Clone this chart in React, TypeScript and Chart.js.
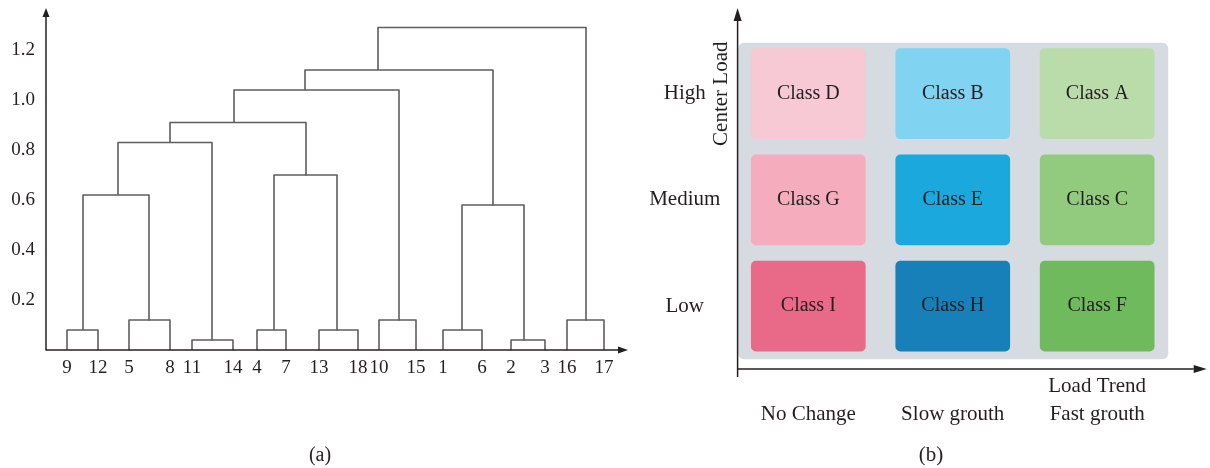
import React, { useEffect, useRef } from 'react';
import { Chart, registerables } from 'chart.js';

Chart.register(...registerables);

const SERIF = '"Liberation Serif", "Times New Roman", serif';
const INK = '#231f20';

// ---------- (a) dendrogram data ----------
const leafLabels = ['9', '12', '5', '8', '11', '14', '4', '7', '13', '18', '10', '15', '1', '6', '2', '3', '16', '17'];
const leafPos = [21, 52, 83, 124, 146, 187, 211, 240, 273, 312, 333, 370, 397, 436, 465, 499, 521, 558];
// node ids: leaves 0..17, merges 18..34 (in this order)
const mergeLeft = [0, 2, 18, 4, 20, 6, 8, 23, 22, 10, 26, 12, 14, 29, 28, 16, 32];
const mergeRight = [1, 3, 19, 5, 21, 7, 9, 24, 25, 11, 27, 13, 15, 30, 31, 17, 33];
const mergeHeight = [0.08, 0.12, 0.62, 0.04, 0.83, 0.08, 0.08, 0.70, 0.91, 0.12, 1.04, 0.08, 0.04, 0.58, 1.12, 0.12, 1.29];
const mergePos = [37, 103, 72, 166, 124, 228, 291, 260, 188, 353, 259, 416, 478, 447, 332, 540, 436];
const heightTicks = [0.2, 0.4, 0.6, 0.8, 1.0, 1.2];

// ---------- (b) class grid data ----------
const trendLabels = ['No Change', 'Slow grouth', 'Fast grouth'];
const loadLabels = ['Low', 'Medium', 'High'];
const classNames = [
  ['Class I', 'Class H', 'Class F'],
  ['Class G', 'Class E', 'Class C'],
  ['Class D', 'Class B', 'Class A'],
];
const classColors = [
  ['#e86a88', '#1780b8', '#6fba5c'],
  ['#f5adbd', '#1aa8dd', '#92cb7e'],
  ['#f7c9d4', '#80d3f1', '#b9dcaa'],
];
const yTitle = 'Center Load';
const xTitle = 'Load Trend';

function arrowLine(ctx: CanvasRenderingContext2D, x1: number, y1: number, x2: number, y2: number, len: number, half: number) {
  const ang = Math.atan2(y2 - y1, x2 - x1);
  const bx = x2 - Math.cos(ang) * len;
  const by = y2 - Math.sin(ang) * len;
  ctx.beginPath();
  ctx.moveTo(x1, y1);
  ctx.lineTo(bx, by);
  ctx.stroke();
  ctx.beginPath();
  ctx.moveTo(x2, y2);
  ctx.lineTo(bx - Math.sin(ang) * half, by + Math.cos(ang) * half);
  ctx.lineTo(bx + Math.sin(ang) * half, by - Math.cos(ang) * half);
  ctx.closePath();
  ctx.fill();
}

const noPad = (s: any) => {
  s.paddingTop = 0;
  s.paddingBottom = 0;
  s.paddingLeft = 0;
  s.paddingRight = 0;
};

export default function App() {
  const refA = useRef<HTMLCanvasElement>(null);
  const refB = useRef<HTMLCanvasElement>(null);

  useEffect(() => {
    const nodeX = leafPos.concat(mergePos);
    const nodeH = leafPos.map(() => 0).concat(mergeHeight);
    const dendroSets = mergeLeft.map((a, i) => {
      const b = mergeRight[i];
      const h = mergeHeight[i];
      return {
        data: [
          { x: nodeX[a], y: nodeH[a] },
          { x: nodeX[a], y: h },
          { x: nodeX[b], y: h },
          { x: nodeX[b], y: nodeH[b] },
        ],
        showLine: true,
        borderColor: '#5e5e5e',
        borderWidth: 1.6,
        pointRadius: 0,
        tension: 0,
        borderJoinStyle: 'round',
        fill: false,
      };
    });

    const axesA = {
      id: 'axesA',
      afterDraw(chart: any) {
        const { ctx, chartArea: ca } = chart;
        ctx.save();
        ctx.strokeStyle = INK;
        ctx.fillStyle = INK;
        ctx.lineWidth = 1.5;
        arrowLine(ctx, ca.left, ca.bottom + 0.5, ca.left, ca.top, 9, 3.5);
        arrowLine(ctx, ca.left, ca.bottom, ca.left + 582, ca.bottom, 10, 3.5);
        ctx.restore();
      },
    };

    const chartA = new Chart(refA.current as HTMLCanvasElement, {
      type: 'scatter',
      data: { datasets: dendroSets as any },
      options: {
        responsive: false,
        animation: false,
        devicePixelRatio: 1,
        layout: { padding: { left: 0, right: 0, top: 8, bottom: 0 } },
        plugins: {
          legend: { display: false },
          tooltip: { enabled: false },
          title: {
            display: true,
            text: '(a)',
            position: 'bottom',
            color: INK,
            padding: 0,
            font: { family: SERIF, size: 20, weight: 'normal' },
          },
        },
        scales: {
          x: {
            type: 'linear',
            min: 0,
            max: 594,
            grid: { display: false, drawTicks: false },
            border: { display: false },
            afterBuildTicks: (s: any) => {
              s.ticks = leafPos.map((v) => ({ value: v }));
            },
            afterFit: (s: any) => {
              s.height = 94;
              noPad(s);
            },
            ticks: {
              autoSkip: false,
              maxRotation: 0,
              minRotation: 0,
              padding: 7,
              color: INK,
              font: { family: SERIF, size: 19 },
              callback: (_v: any, i: number) => leafLabels[i],
            },
          },
          y: {
            type: 'linear',
            min: 0,
            max: 1.368,
            grid: { display: false, drawTicks: false },
            border: { display: false },
            afterBuildTicks: (s: any) => {
              s.ticks = heightTicks.map((v) => ({ value: v }));
            },
            afterFit: (s: any) => {
              s.width = 46;
              noPad(s);
            },
            ticks: {
              padding: 11,
              color: INK,
              font: { family: SERIF, size: 19 },
              callback: (v: any) => Number(v).toFixed(1),
            },
          },
        },
      } as any,
      plugins: [axesA],
    });

    const cellSets = loadLabels.map((_, r) => ({
      data: trendLabels.map((_t, c) => ({ x: c, y: [r - 0.427, r + 0.427] })),
      backgroundColor: classColors[r],
      borderRadius: 5,
      borderSkipped: false,
      grouped: false,
      categoryPercentage: 1,
      barPercentage: 0.794,
    }));

    const gridDecor = {
      id: 'gridDecor',
      beforeDatasetsDraw(chart: any) {
        const { ctx, scales } = chart;
        const { x, y } = scales;
        const top = y.getPixelForValue(2.48);
        const bottom = y.getPixelForValue(-0.5);
        const left = x.getPixelForValue(-0.485);
        const right = x.getPixelForValue(2.492);
        ctx.save();
        ctx.fillStyle = '#d5dbe1';
        ctx.beginPath();
        ctx.roundRect(left, top, right - left, bottom - top, 6);
        ctx.fill();
        ctx.restore();
      },
      afterDatasetsDraw(chart: any) {
        const { ctx } = chart;
        ctx.save();
        ctx.fillStyle = INK;
        ctx.font = `20px ${SERIF}`;
        ctx.textAlign = 'center';
        ctx.textBaseline = 'middle';
        loadLabels.forEach((_, r) => {
          const meta = chart.getDatasetMeta(r);
          meta.data.forEach((el: any, c: number) => {
            ctx.fillText(classNames[r][c], el.x, (el.y + el.base) / 2);
          });
        });
        ctx.restore();
      },
      afterDraw(chart: any) {
        const { ctx, chartArea: ca, scales } = chart;
        ctx.save();
        ctx.strokeStyle = INK;
        ctx.fillStyle = INK;
        ctx.lineWidth = 1.5;
        const ax = ca.left + 0.3;
        arrowLine(ctx, ax, ca.bottom + 8, ax, ca.top, 13, 4);
        arrowLine(ctx, ax, ca.bottom, ca.left + 469.4, ca.bottom, 13, 4);
        ctx.font = `21px ${SERIF}`;
        ctx.textAlign = 'center';
        ctx.textBaseline = 'middle';
        ctx.fillText(xTitle, scales.x.getPixelForValue(2), ca.bottom + 17);
        ctx.translate(ca.left - 16, scales.y.getPixelForValue(2));
        ctx.rotate(-Math.PI / 2);
        ctx.fillText(yTitle, 0, 0);
        ctx.restore();
      },
    };

    const chartB = new Chart(refB.current as HTMLCanvasElement, {
      type: 'bar',
      data: { datasets: cellSets as any },
      options: {
        responsive: false,
        animation: false,
        devicePixelRatio: 1,
        layout: { padding: { left: 0, right: 0, top: 8, bottom: 0 } },
        plugins: {
          legend: { display: false },
          tooltip: { enabled: false },
          title: {
            display: true,
            text: '(b)',
            position: 'bottom',
            color: INK,
            padding: 0,
            font: { family: SERIF, size: 21, weight: 'normal' },
          },
        },
        scales: {
          x: {
            type: 'linear',
            min: -0.4915,
            max: 2.864,
            offset: false,
            grid: { display: false, drawTicks: false },
            border: { display: false },
            afterBuildTicks: (s: any) => {
              s.ticks = trendLabels.map((_, i) => ({ value: i }));
            },
            afterFit: (s: any) => {
              s.height = 73.8;
              noPad(s);
            },
            ticks: {
              autoSkip: false,
              maxRotation: 0,
              minRotation: 0,
              padding: 33,
              color: INK,
              font: { family: SERIF, size: 21 },
              callback: (v: any) => trendLabels[Math.round(Number(v))],
            },
          },
          y: {
            type: 'linear',
            min: -0.591,
            max: 2.807,
            grid: { display: false, drawTicks: false },
            border: { display: false },
            afterBuildTicks: (s: any) => {
              s.ticks = loadLabels.map((_, i) => ({ value: i }));
            },
            afterFit: (s: any) => {
              s.width = 97.3;
              noPad(s);
            },
            ticks: {
              crossAlign: 'center',
              padding: 17,
              color: INK,
              font: { family: SERIF, size: 21 },
              callback: (v: any) => loadLabels[Math.round(Number(v))],
            },
          },
        },
      } as any,
      plugins: [gridDecor],
    });

    return () => {
      chartA.destroy();
      chartB.destroy();
    };
  }, []);

  return (
    <div style={{ position: 'fixed', left: 0, top: 0, width: 1210, height: 468, overflow: 'hidden', background: '#ffffff' }}>
      <canvas ref={refA} width={640} height={468} style={{ position: 'absolute', left: 0, top: 0 }} />
      <canvas ref={refB} width={582} height={468} style={{ position: 'absolute', left: 640, top: 0 }} />
    </div>
  );
}
